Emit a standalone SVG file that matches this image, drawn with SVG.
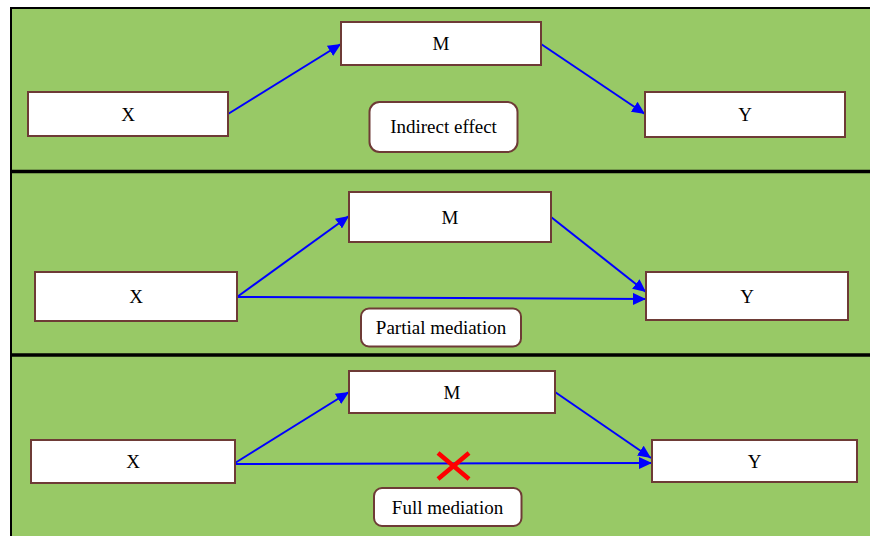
<svg xmlns="http://www.w3.org/2000/svg" width="870" height="536" viewBox="0 0 870 536">
<defs>
<marker id="ah" markerUnits="userSpaceOnUse" markerWidth="14" markerHeight="12" refX="13" refY="6" orient="auto">
<path d="M0,0 L13,6 L0,12 Z" fill="#0000FF"/>
</marker>
<style>
.box{fill:#FFFFFF;stroke:#6E3B36;stroke-width:2}
.lbl{fill:#FFFFFF;stroke:#6E3B36;stroke-width:2}
.t{font-size:19px;fill:#000000;text-anchor:middle}
.c{fill:none;stroke:#0000FF;stroke-width:2;marker-end:url(#ah)}
.sep{stroke:#000000;stroke-width:3.5}
</style>
</defs>
<rect x="0" y="0" width="870" height="536" fill="#FFFFFF"/>
<rect x="11" y="8" width="870" height="540" fill="#98C966" stroke="#000000" stroke-width="2"/>
<line class="sep" x1="12" y1="171.5" x2="870" y2="171.5"/>
<line class="sep" x1="12" y1="355" x2="870" y2="355"/>

<g id="connectors">
<line class="c" x1="228" y1="114" x2="341" y2="44"/>
<line class="c" x1="541" y1="44" x2="645" y2="114"/>
<line class="c" x1="237" y1="297" x2="349" y2="216"/>
<line class="c" x1="551" y1="217" x2="646" y2="292"/>
<line class="c" x1="237" y1="297" x2="646" y2="299"/>
<line class="c" x1="235" y1="463" x2="349" y2="392"/>
<line class="c" x1="555" y1="392" x2="651" y2="458"/>
<line class="c" x1="235" y1="464" x2="652" y2="463"/>
</g>

<g font-family="'Liberation Serif', 'Times New Roman', 'DejaVu Serif', serif">
<g id="p1-x"><rect class="box" x="28" y="92" width="200" height="44"/><text class="t" x="128" y="121">X</text></g>
<g id="p1-m"><rect class="box" x="341" y="22" width="200" height="43"/><text class="t" x="441" y="50">M</text></g>
<g id="p1-y"><rect class="box" x="645" y="92" width="200" height="45"/><text class="t" x="745" y="121">Y</text></g>
<g id="p1-label"><rect class="lbl" x="369.5" y="102" width="148" height="50" rx="10"/><text class="t" x="443.5" y="133">Indirect effect</text></g>

<g id="p2-x"><rect class="box" x="35" y="272" width="202" height="49"/><text class="t" x="136" y="303">X</text></g>
<g id="p2-m"><rect class="box" x="349" y="192" width="202" height="50"/><text class="t" x="450" y="223.5">M</text></g>
<g id="p2-y"><rect class="box" x="646" y="272" width="202" height="48"/><text class="t" x="747" y="302.5">Y</text></g>
<g id="p2-label"><rect class="lbl" x="361" y="308.5" width="160" height="38" rx="8"/><text class="t" x="441" y="334">Partial mediation</text></g>

<g id="p3-x"><rect class="box" x="31" y="440" width="204" height="43"/><text class="t" x="133" y="468">X</text></g>
<g id="p3-m"><rect class="box" x="349" y="371" width="206" height="42"/><text class="t" x="452" y="398.5">M</text></g>
<g id="p3-y"><rect class="box" x="652" y="440" width="205" height="42"/><text class="t" x="754.5" y="467.5">Y</text></g>
<g id="p3-label"><rect class="lbl" x="374" y="488" width="147.5" height="38" rx="8"/><text class="t" x="447.5" y="513.5">Full mediation</text></g>
</g>

<g id="p3-cross" stroke="#FF0000" stroke-width="4.5" stroke-linecap="butt">
<line x1="438" y1="453" x2="469" y2="479"/>
<line x1="469" y1="453" x2="438" y2="479"/>
</g>
</svg>
